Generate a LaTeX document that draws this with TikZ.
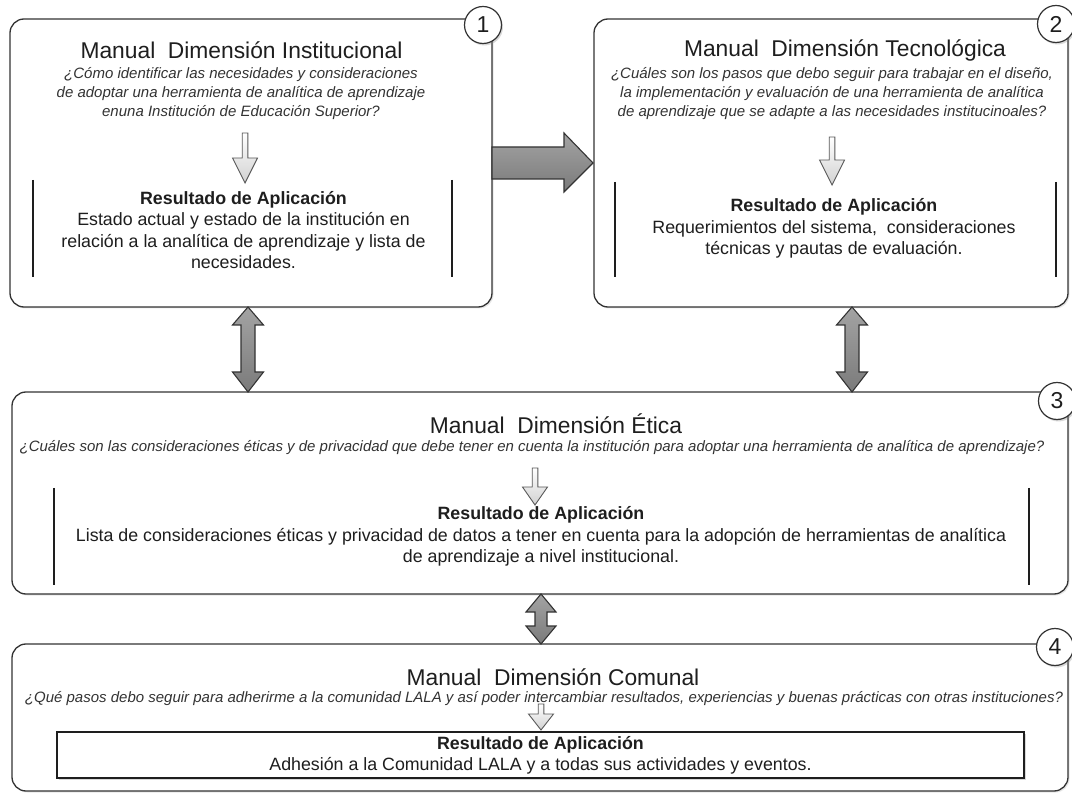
\documentclass[tikz,border=0pt]{standalone}
\usepackage{fontspec}
\setmainfont{Liberation Sans}
\usetikzlibrary{shadows}
\definecolor{ink}{HTML}{1E1E1E}
\definecolor{qink}{HTML}{333333}
\definecolor{edge}{HTML}{333333}
\newcommand\ftitle{\fontsize{22.8}{27}\selectfont}
\newcommand\fques{\fontsize{15}{19}\selectfont\itshape}
\newcommand\fres{\fontsize{17.8}{21.2}\selectfont}
\newcommand\fatdbl[7]{%
  \draw[fatarrow] (#1,#2) -- ({#1+#7},#3) -- ({#1+#6},#3) -- ({#1+#6},#4) -- ({#1+#7},#4) -- (#1,#5)
    -- ({#1-#7},#4) -- ({#1-#6},#4) -- ({#1-#6},#3) -- ({#1-#7},#3) -- cycle;}
\newcommand\downarr[4]{%
  \draw[thinarrow] ({#1-2.8},#2) -- ({#1+2.8},#2) -- ({#1+2.8},#3) -- ({#1+12.5},#3) -- (#1,#4)
    -- ({#1-12.5},#3) -- ({#1-2.8},#3) -- cycle;}
\begin{document}
\begin{tikzpicture}[x=1pt,y=-1pt,
  box/.style={draw=edge, line width=1.3pt, rounded corners=14pt, fill=white, anchor=north west,
    inner sep=0pt, outer sep=0pt, drop shadow={shadow xshift=1.5pt, shadow yshift=-1.5pt, opacity=0.2}},
  num/.style={circle, draw=edge, line width=1.2pt, fill=white, minimum size=37pt, inner sep=0pt,
    font=\fontsize{23}{23}\selectfont, text=ink, drop shadow={shadow xshift=1.5pt, shadow yshift=-2pt, opacity=0.3}},
  ttl/.style={text=ink, font=\ftitle, inner sep=0pt},
  ques/.style={text=qink, font=\fques, align=center, inner sep=0pt},
  res/.style={text=ink, font=\fres, align=center, inner sep=0pt},
  innerbox/.style={draw=ink, line width=1.2pt, fill=white, minimum width=967pt, minimum height=46pt,
    drop shadow={shadow xshift=1.5pt, shadow yshift=-2pt, opacity=0.3}},
  fatarrow/.style={draw=edge, line width=1.1pt, top color=black!36, bottom color=black!52, line join=miter},
  thinarrow/.style={draw=black!65, line width=0.9pt, top color=white, bottom color=black!18},
  bracket/.style={draw=ink, line width=1.2pt}]
\useasboundingbox (0,0) rectangle (1072,794);

% main boxes
\node[box, minimum width=482pt, minimum height=288pt] (b1) at (10,19) {};
\node[box, minimum width=474pt, minimum height=288pt] (b2) at (594,19) {};
\node[box, minimum width=1056pt, minimum height=202pt] (b3) at (12,392) {};
\node[box, minimum width=1056pt, minimum height=147pt] (b4) at (12,644) {};

% number circles
\node[num] (n1) at (483,25) {1};
\node[num] (n2) at (1056,24) {2};
\node[num] (n3) at (1057,401) {3};
\node[num] (n4) at (1055,647) {4};

% box 1
\node[ttl] (t1) at (241.5,50) {Manual\ \ Dimensión Institucional};
\node[ques] (q1) at (241,94) {¿Cómo identificar las necesidades y consideraciones\\de adoptar una herramienta de analítica de aprendizaje\\enuna Institución de Educación Superior?};
\node[res] (r1) at (243.5,230) {\textbf{Resultado de Aplicación}\\Estado actual y estado de la institución en\\relación a la analítica de aprendizaje y lista de\\necesidades.};
\draw[bracket] (33,180) -- (33,277);
\draw[bracket] (452,180) -- (452,277);
\downarr{245}{133}{158}{183}

% box 2
\node[ttl] (t2) at (845,50) {Manual\ \ Dimensión Tecnológica};
\node[ques] (q2) at (832,94) {¿Cuáles son los pasos que debo seguir para trabajar en el diseño,\\la implementación y evaluación de una herramienta de analítica\\de aprendizaje que se adapte a las necesidades institucinoales?};
\node[res] (r2) at (834,228.5) {\textbf{Resultado de Aplicación}\\Requerimientos del sistema,\ \ consideraciones\\técnicas y pautas de evaluación.};
\draw[bracket] (615,182) -- (615,277);
\draw[bracket] (1056,182) -- (1056,277);
\downarr{832}{137}{160}{185}

% box 3
\node[ttl] (t3) at (556,424) {Manual\ \ Dimensión Ética};
\node[ques] (q3) at (532,448) {¿Cuáles son las consideraciones éticas y de privacidad que debe tener en cuenta la institución para adoptar una herramienta de analítica de aprendizaje?};
\node[res] (r3) at (541,536.5) {\textbf{Resultado de Aplicación}\\Lista de consideraciones éticas y privacidad de datos a tener en cuenta para la adopción de herramientas de analítica\\de aprendizaje a nivel institucional.};
\draw[bracket] (54,488) -- (54,585);
\draw[bracket] (1029,488) -- (1029,585);
\downarr{535}{468}{487}{505}

% box 4
\node[ttl] (t4) at (553,677) {Manual\ \ Dimensión Comunal};
\node[ques] (q4) at (544,699) {¿Qué pasos debo seguir para adherirme a la comunidad LALA y así poder intercambiar resultados, experiencias y buenas prácticas con otras instituciones?};
\node[innerbox, res] (r4) at (540.5,755) {\textbf{Resultado de Aplicación}\\Adhesión a la Comunidad LALA y a todas sus actividades y eventos.};
\downarr{541}{704}{714}{730}

% connectors between boxes
\draw[fatarrow] (492,147) -- (564,147) -- (564,133) -- (593,163) -- (564,192) -- (564,179) -- (492,179) -- cycle;
\fatdbl{248}{307}{325}{372}{392}{7}{15.5}
\fatdbl{852}{307}{325}{372}{392}{7}{15.5}
\fatdbl{541}{594}{612}{626}{644}{6}{15}
\end{tikzpicture}
\end{document}
